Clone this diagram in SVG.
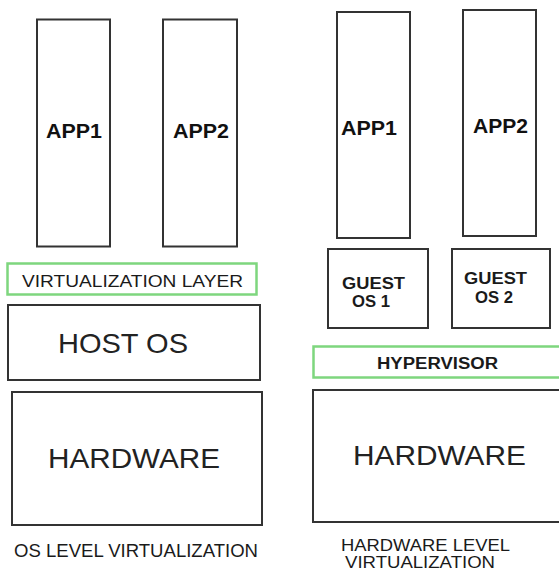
<svg xmlns="http://www.w3.org/2000/svg" width="559" height="571" viewBox="0 0 559 571">
<style>
.box{fill:#fff;stroke:#333;stroke-width:2}
.green{fill:#fff;stroke:#7ed67e;stroke-width:2.5}
.app{font-family:"Liberation Sans",Arial,sans-serif;font-weight:bold;font-size:20px;fill:#111}
.big{font-family:"Liberation Sans",Arial,sans-serif;font-size:28px;fill:#222}
.sm{font-family:"Liberation Sans",Arial,sans-serif;font-size:16px;fill:#1a1a1a}
.cap{font-family:"Liberation Sans",Arial,sans-serif;font-size:18px;fill:#1a1a1a}
.cap2{font-family:"Liberation Sans",Arial,sans-serif;font-size:16px;fill:#1a1a1a}
</style>
<rect width="559" height="571" fill="#fff"/>
<g id="left-app1"><rect class="box" x="37" y="19.5" width="73" height="227"/><text class="app" x="46" y="138" textLength="56" lengthAdjust="spacingAndGlyphs">APP1</text></g>
<g id="left-app2"><rect class="box" x="163" y="19.5" width="74" height="227"/><text class="app" x="173" y="138" textLength="56" lengthAdjust="spacingAndGlyphs">APP2</text></g>
<g id="virt-layer"><rect class="green" x="7.5" y="263.5" width="249" height="31"/><text class="sm" x="22" y="287" textLength="221" lengthAdjust="spacingAndGlyphs">VIRTUALIZATION LAYER</text></g>
<g id="host-os"><rect class="box" x="8" y="305" width="252" height="75"/><text class="big" x="58" y="353" textLength="130" lengthAdjust="spacingAndGlyphs">HOST OS</text></g>
<g id="left-hardware"><rect class="box" x="12" y="392" width="250" height="133"/><text class="big" x="48" y="468" textLength="172" lengthAdjust="spacingAndGlyphs">HARDWARE</text></g>
<g id="left-caption"><text class="cap" x="14" y="557" textLength="244" lengthAdjust="spacingAndGlyphs">OS LEVEL VIRTUALIZATION</text></g>
<g id="right-app1"><rect class="box" x="337" y="12" width="73" height="226"/><text class="app" x="341" y="135" textLength="56" lengthAdjust="spacingAndGlyphs">APP1</text></g>
<g id="right-app2"><rect class="box" x="463" y="10" width="73" height="226"/><text class="app" x="473" y="133" textLength="55" lengthAdjust="spacingAndGlyphs">APP2</text></g>
<g id="guest-os1"><rect class="box" x="328" y="249" width="100" height="79"/><text class="sm" font-weight="bold" x="342" y="289" textLength="63" lengthAdjust="spacingAndGlyphs">GUEST</text><text class="sm" font-weight="bold" x="352" y="307" textLength="38" lengthAdjust="spacingAndGlyphs">OS 1</text></g>
<g id="guest-os2"><rect class="box" x="452" y="249" width="98" height="79"/><text class="sm" font-weight="bold" x="464" y="284" textLength="63" lengthAdjust="spacingAndGlyphs">GUEST</text><text class="sm" font-weight="bold" x="475" y="303" textLength="38" lengthAdjust="spacingAndGlyphs">OS 2</text></g>
<g id="hypervisor"><rect class="green" x="313.5" y="346.5" width="250" height="31"/><text class="sm" font-weight="bold" x="377" y="369" textLength="121" lengthAdjust="spacingAndGlyphs">HYPERVISOR</text></g>
<g id="right-hardware"><rect class="box" x="313" y="390" width="250" height="132"/><text class="big" x="353" y="465" textLength="173" lengthAdjust="spacingAndGlyphs">HARDWARE</text></g>
<g id="right-caption"><text class="cap2" x="341" y="551" textLength="169" lengthAdjust="spacingAndGlyphs">HARDWARE LEVEL</text><text class="cap2" x="345" y="568" textLength="150" lengthAdjust="spacingAndGlyphs">VIRTUALIZATION</text></g>
<g id="connectors"></g>
</svg>
